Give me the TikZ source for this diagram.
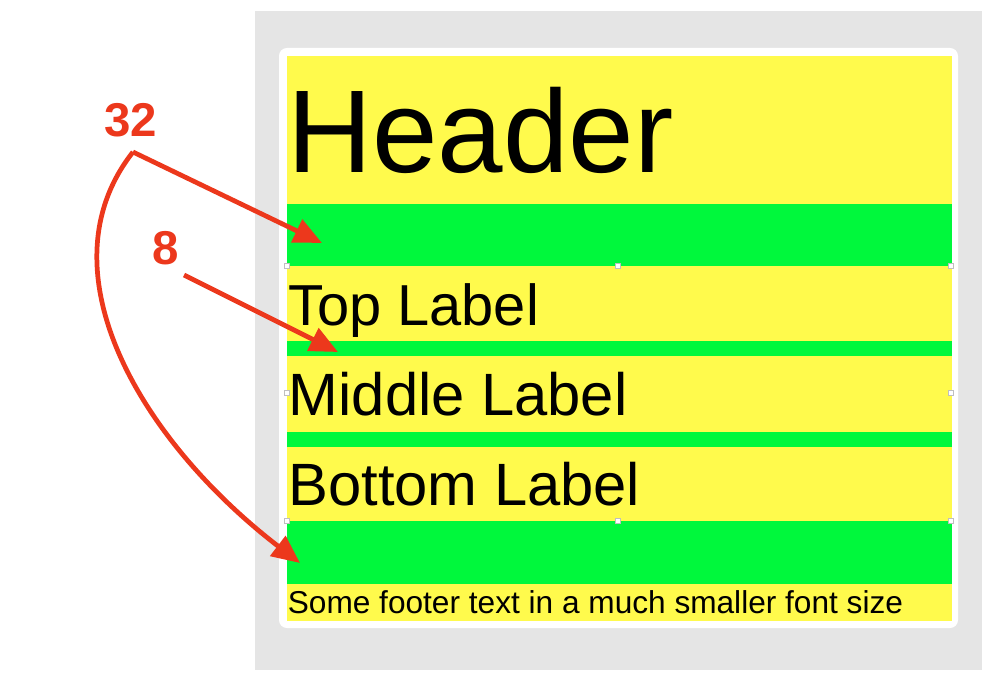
\documentclass[tikz,border=0pt]{standalone}
\usepackage{fontspec}
\setmainfont{Liberation Sans}
\usetikzlibrary{arrows.meta}
\definecolor{bandyellow}{RGB}{255,250,76}
\definecolor{bandgreen}{RGB}{0,248,60}
\definecolor{markred}{RGB}{236,56,28}
\definecolor{panelgray}{RGB}{229,229,229}

\begin{document}
\begin{tikzpicture}[x=0.02cm, y=-0.02cm]
	%%%%% START %%%%%
	
	\useasboundingbox (0, 0) rectangle (998, 686);
	
	\fill[panelgray] (255, 11) rectangle (982, 670);
	\fill[white, rounded corners=4.5pt] (279, 48) rectangle (958, 628);
	\fill[bandyellow] (287, 56) rectangle (952, 621);
	
	\fill[bandgreen] (287, 204) rectangle (952, 266);
	\fill[bandgreen] (287, 341) rectangle (952, 356);
	\fill[bandgreen] (287, 432) rectangle (952, 447);
	\fill[bandgreen] (287, 521) rectangle (952, 584);
	
	\foreach \hx/\hy in {287/266, 618/266, 951/266, 287/393, 951/393, 287/521, 618/521, 951/521}
		\draw[fill=white, draw=black!25, line width=0.3pt] (\hx-2.5, \hy-2.5) rectangle (\hx+2.5, \hy+2.5);
	
	\node[anchor=base west, inner sep=0, font=\fontsize{67}{80}\selectfont] (header) at (287, 173) {Header};
	\node[anchor=base west, inner sep=0, font=\fontsize{32.9}{40}\selectfont] (toplabel) at (288, 325) {Top Label};
	\node[anchor=base west, inner sep=0, font=\fontsize{34}{41}\selectfont] (midlabel) at (288.5, 415) {Middle Label};
	\node[anchor=base west, inner sep=0, font=\fontsize{34}{41}\selectfont] (botlabel) at (288, 505) {Bottom Label};
	\node[anchor=base west, inner sep=0, font=\fontsize{18}{22}\selectfont] (footer) at (287.5, 613) {Some footer text in a much smaller font size};
	
	\node[markred, font=\bfseries\fontsize{27}{32}\selectfont] (n32) at (131, 120) {32};
	\node[markred, font=\bfseries\fontsize{27}{32}\selectfont] (n8) at (166, 248) {8};
	
	\coordinate (n32foot) at (133, 152);
	\coordinate (n8foot) at (184, 275);
	\coordinate (topgap) at (322, 243);
	\coordinate (labelgap) at (338, 352);
	\coordinate (botgap) at (300, 563);
	
	\draw[markred, line width=2.7pt, -{Triangle[length=16pt, width=14pt]}] (n32foot) -- (topgap);
	\draw[markred, line width=2.7pt, -{Triangle[length=16pt, width=14pt]}] (n8foot) -- (labelgap);
	\draw[markred, line width=2.7pt, -{Triangle[length=16pt, width=14pt]}] (n32foot) .. controls (40, 270) and (140, 440) .. (botgap);
	
	%%%%% END %%%%%
\end{tikzpicture}
\end{document}
